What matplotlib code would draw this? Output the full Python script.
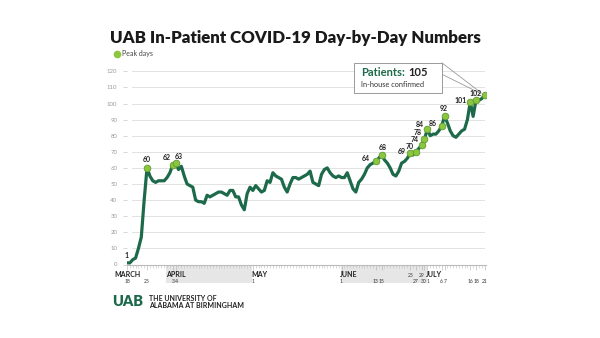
import numpy as np
import pandas as pd
import matplotlib
matplotlib.use("Agg")
import matplotlib.pyplot as plt
import matplotlib.dates as mdates
from matplotlib.patches import Rectangle
from matplotlib.lines import Line2D

plt.rcParams['font.family'] = ['Lato', 'DejaVu Sans']

# in-house confirmed COVID-19 patients, one value per day
start = "2020-03-18"
march = [1, 1, 3, 4, 10, 17, 40, 60, 55, 52, 51, 52, 52, 52]
april = [54, 57, 62, 63, 59, 61, 55, 50, 49, 48, 40, 39, 39, 38, 43,
         42, 43, 44, 45, 45, 44, 43, 46, 46, 42, 42, 37, 34, 44, 48]
may = [46, 49, 47, 45, 46, 52, 51, 57, 55, 54, 53, 48, 45, 50, 54, 54,
       53, 54, 55, 56, 58, 51, 50, 49, 56, 59, 60, 57, 55, 54, 55]
june = [54, 54, 57, 52, 47, 45, 51, 53, 56, 60, 62, 63, 64, 66, 68,
        65, 63, 60, 56, 55, 58, 63, 64, 66, 69, 68, 70, 72, 74, 78]
july = [84, 80, 81, 81, 83, 86, 92, 88, 83, 80, 79, 81, 83, 84, 90,
        101, 92, 102, 102, 103, 105]

peak_dates = ["2020-03-25", "2020-04-03", "2020-04-04", "2020-06-13", "2020-06-15",
              "2020-06-25", "2020-06-27", "2020-06-29", "2020-06-30", "2020-07-01",
              "2020-07-06", "2020-07-07", "2020-07-16", "2020-07-18", "2020-07-21"]

months = ["MARCH", "APRIL", "MAY", "JUNE", "JULY"]
month_starts = ["2020-03-14", "2020-04-01", "2020-05-01", "2020-06-01", "2020-07-01"]
shaded_months = [("2020-04-01", "2020-05-01"), ("2020-06-01", "2020-07-01")]
day_labels_low = ["2020-03-18", "2020-03-25", "2020-04-03", "2020-04-04", "2020-05-01",
                  "2020-06-01", "2020-06-13", "2020-06-15", "2020-06-27", "2020-06-30",
                  "2020-07-01", "2020-07-06", "2020-07-07", "2020-07-16", "2020-07-18",
                  "2020-07-21"]
day_labels_high = ["2020-06-25", "2020-06-29"]

values = march + april + may + june + july
dates = pd.date_range(start, periods=len(values), freq="D")
series = pd.Series(values, index=dates)

GREEN = "#1d6a4b"
LIGHT = "#8cc63f"

fig = plt.figure(figsize=(6, 3.38), dpi=100)
fig.patch.set_facecolor("white")
ax = fig.add_axes([127 / 600, 1 - 264.5 / 338, 359 / 600, 193.2 / 338])

ax.plot(series.index, series.values, color=GREEN, lw=2.3, solid_joinstyle="round", zorder=3)

peaks = series[pd.to_datetime(peak_dates)]
ax.plot(peaks.index, peaks.values, ls="none", marker="o", ms=4.8,
        mfc=LIGHT, mec="#5e9d33", mew=0.6, zorder=4)

# where each peak label sits (pixels from the point)
offsets = [(0, 8), (-6, 7), (3, 7), (-10, 3), (1, 8), (-8, 2), (-6, 5), (-7, 6),
           (-7, 6), (-8, 5), (-9, 3), (-1, 8), (-10, 1), (0, 7)]
for (d, v), off in zip(peaks.items(), offsets):
    ax.annotate(str(v), (d, v), xytext=off, textcoords="offset pixels",
                ha="center", va="center", fontsize=5, fontweight="bold",
                color="#222222", zorder=5)
ax.annotate(str(series.iloc[0]), (series.index[0], series.iloc[0]), xytext=(0, 7),
            textcoords="offset pixels", ha="center", va="center", fontsize=5,
            fontweight="bold", color="#222222")

ax.set_ylim(0, 120)
ax.set_xlim(dates[0], dates[0] + pd.Timedelta(days=125.5))
for s in ["top", "right", "left"]:
    ax.spines[s].set_visible(False)
ax.spines["bottom"].set_color("#bbbbbb")
ax.spines["bottom"].set_linewidth(0.8)

ax.set_yticks(range(0, 121, 10))
ax.tick_params(axis="y", length=3, width=0.5, color="#c8c8c8", labelsize=4.3,
               labelcolor="#9a9a9a", pad=4)
for y in range(10, 121, 10):
    ax.axhline(y, xmin=0.013, xmax=0.995, color="#e2e2e2", lw=0.7, zorder=0)

ax.xaxis.set_minor_locator(mdates.DayLocator())
ax.set_xticks(pd.to_datetime(day_labels_low + day_labels_high))
ax.tick_params(axis="x", which="major", length=3.5, width=0.4, color="#b0b0b0",
               labelbottom=False)
ax.tick_params(axis="x", which="minor", length=2, width=0.4, color="#c0c0c0")

tr = ax.get_xaxis_transform()
for a, b in shaded_months:
    x0 = mdates.date2num(pd.Timestamp(a)) - 0.3
    x1 = mdates.date2num(pd.Timestamp(b)) - 0.3
    ax.add_patch(Rectangle((x0, -0.096), x1 - x0, 0.088, transform=tr,
                           facecolor="#e6e6e6", edgecolor="none", clip_on=False, zorder=0))

for name, d in zip(months, month_starts):
    ax.text(mdates.date2num(pd.Timestamp(d)) - 0.4, -0.05, name, transform=tr,
            ha="left", va="center", fontsize=5, fontweight="bold", color="#222222")

# labels on neighbouring days lean away from each other
lean = {"2020-06-30": ("right", 0.6), "2020-07-01": ("left", -0.2),
        "2020-07-06": ("right", 0.5), "2020-07-07": ("left", -0.3),
        "2020-04-03": ("right", 0.5), "2020-04-04": ("left", -0.3)}
for d in day_labels_low:
    t = pd.Timestamp(d)
    ha, dx = lean.get(d, ("center", 0))
    ax.text(mdates.date2num(t) + dx, -0.088, str(t.day), transform=tr, ha=ha, va="center",
            fontsize=3.6, color="#333333")
for d in day_labels_high:
    t = pd.Timestamp(d)
    ax.text(t, -0.057, str(t.day), transform=tr, ha="center", va="center",
            fontsize=3.6, color="#333333")

# callout box for the latest value
last_d, last_v = series.index[-1], series.iloc[-1]
for yy in (1.044, 0.985):
    ax.annotate("", (last_d, last_v), xytext=(0.877, yy), textcoords="axes fraction",
                arrowprops=dict(arrowstyle="-", color="#9a9a9a", lw=0.6,
                                shrinkA=0, shrinkB=3))
ax.add_patch(Rectangle((0.632, 0.889), 0.245, 0.155, transform=ax.transAxes,
                       facecolor="white", edgecolor="#9a9a9a", lw=0.7,
                       clip_on=False, zorder=6))
t1 = ax.text(0.652, 0.993, "Patients:", transform=ax.transAxes, ha="left", va="center",
             fontsize=8, fontweight="bold", color=GREEN, zorder=7)
ax.annotate(str(last_v), xy=(1, 0), xycoords=t1, xytext=(3, 0), textcoords="offset pixels",
            ha="left", va="bottom", fontsize=8, fontweight="bold", color="#222222", zorder=7)
ax.text(0.652, 0.93, "In-house confirmed", transform=ax.transAxes, ha="left", va="center",
        fontsize=5.3, color="#333333", zorder=7)

fig.text(110 / 600, 1 - 38 / 338, "UAB In-Patient COVID-19 Day-by-Day Numbers",
         ha="left", va="center", fontsize=12.2, fontweight="heavy", color="#1a1a1a")
ax.legend(handles=[Line2D([], [], ls="none", marker="o", ms=4.5, mfc=LIGHT, mec=LIGHT)],
          labels=["Peak days"], loc="center left", bbox_to_anchor=(109 / 600, 1 - 53.5 / 338),
          bbox_transform=fig.transFigure, frameon=False, fontsize=5, handletextpad=0.2,
          borderpad=0, handlelength=1.2, labelcolor="#444444")

fig.text(112 / 600, 1 - 302 / 338, "UAB", ha="left", va="center", fontsize=10.5,
         fontweight="heavy", color=GREEN)
fig.text(149 / 600, 1 - 302 / 338, "THE UNIVERSITY OF\nALABAMA AT BIRMINGHAM", ha="left",
         va="center", fontsize=5, fontweight="bold", color="#222222", linespacing=0.95)

fig.savefig("out.png", dpi=100, facecolor="white")
